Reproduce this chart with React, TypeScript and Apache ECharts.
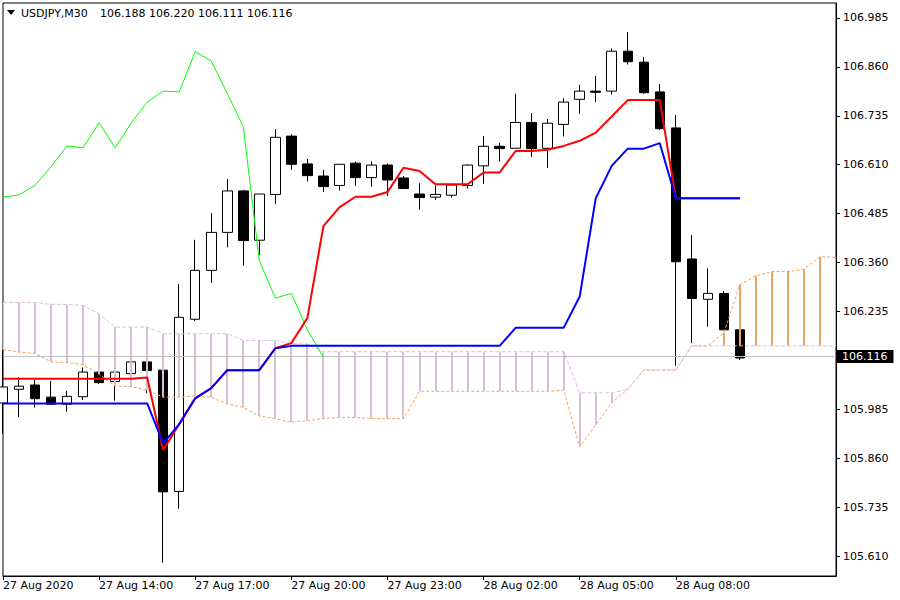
import { useEffect, useRef } from "react";
import * as echarts from "echarts";

const categories = [
  "27 Aug 11:00", "27 Aug 11:30", "27 Aug 12:00", "27 Aug 12:30", "27 Aug 13:00", "27 Aug 13:30",
  "27 Aug 14:00", "27 Aug 14:30", "27 Aug 15:00", "27 Aug 15:30", "27 Aug 16:00", "27 Aug 16:30",
  "27 Aug 17:00", "27 Aug 17:30", "27 Aug 18:00", "27 Aug 18:30", "27 Aug 19:00", "27 Aug 19:30",
  "27 Aug 20:00", "27 Aug 20:30", "27 Aug 21:00", "27 Aug 21:30", "27 Aug 22:00", "27 Aug 22:30",
  "27 Aug 23:00", "27 Aug 23:30", "28 Aug 00:00", "28 Aug 00:30", "28 Aug 01:00", "28 Aug 01:30",
  "28 Aug 02:00", "28 Aug 02:30", "28 Aug 03:00", "28 Aug 03:30", "28 Aug 04:00", "28 Aug 04:30",
  "28 Aug 05:00", "28 Aug 05:30", "28 Aug 06:00", "28 Aug 06:30", "28 Aug 07:00", "28 Aug 07:30",
  "28 Aug 08:00", "28 Aug 08:30", "28 Aug 09:00", "28 Aug 09:30", "28 Aug 10:00", "28 Aug 10:30",
  "28 Aug 11:00", "28 Aug 11:30", "28 Aug 12:00", "28 Aug 12:30", "28 Aug 13:00",
];
const firstDateLabel = "27 Aug 2020";
const symbolLabel = "USDJPY,M30";

const opens = [
  106.001, 106.036, 106.047, 106.016, 105.998, 106.017, 106.080, 106.056, 106.076, 106.106,
  106.085, 105.775, 106.215, 106.340, 106.437, 106.543, 106.417, 106.534, 106.683, 106.612,
  106.581, 106.557, 106.614, 106.577, 106.609, 106.576, 106.535, 106.527, 106.532, 106.557,
  106.607, 106.657, 106.652, 106.718, 106.652, 106.713, 106.777, 106.798, 106.798, 106.900,
  106.872, 106.796, 106.704, 106.369, 106.266, 106.281, 106.188,
];
const highs = [
  106.136, 106.067, 106.060, 106.057, 106.032, 106.092, 106.083, 106.081, 106.106, 106.106,
  106.096, 106.305, 106.418, 106.486, 106.573, 106.546, 106.535, 106.701, 106.688, 106.625,
  106.597, 106.611, 106.618, 106.619, 106.613, 106.581, 106.563, 106.557, 106.558, 106.611,
  106.683, 106.666, 106.791, 106.742, 106.727, 106.780, 106.814, 106.837, 106.907, 106.949,
  106.885, 106.816, 106.737, 106.430, 106.345, 106.287, 106.220,
];
const lows = [
  105.922, 105.965, 105.989, 105.996, 105.979, 106.009, 106.050, 106.007, 106.076, 106.026,
  105.593, 105.731, 106.211, 106.308, 106.399, 106.352, 106.379, 106.509, 106.597, 106.567,
  106.540, 106.544, 106.556, 106.554, 106.530, 106.549, 106.495, 106.520, 106.526, 106.549,
  106.561, 106.618, 106.652, 106.630, 106.602, 106.682, 106.740, 106.770, 106.789, 106.866,
  106.791, 106.699, 106.096, 106.154, 106.196, 106.188, 106.111,
];
const closes = [
  106.042, 106.044, 106.012, 105.998, 106.018, 106.080, 106.053, 106.080, 106.106, 106.084,
  105.774, 106.220, 106.340, 106.437, 106.543, 106.416, 106.535, 106.680, 106.611, 106.582,
  106.554, 106.611, 106.577, 106.609, 106.571, 106.549, 106.526, 106.534, 106.558, 106.609,
  106.657, 106.651, 106.718, 106.651, 106.716, 106.770, 106.798, 106.795, 106.900, 106.873,
  106.794, 106.702, 106.362, 106.268, 106.281, 106.188, 106.116,
];

const tenkan = [
  106.063, 106.063, 106.063, 106.063, 106.063, 106.063, 106.063, 106.063, 106.063, 106.066,
  105.881, 105.947, 106.013, 106.039, 106.085, 106.085, 106.085, 106.141, 106.154, 106.218,
  106.453, 106.501, 106.528, 106.528, 106.540, 106.602, 106.594, 106.560, 106.560, 106.560,
  106.590, 106.590, 106.645, 106.645, 106.648, 106.658, 106.671, 106.692, 106.733, 106.775,
  106.775, 106.775, 106.524, 106.524, 106.524, 106.524, 106.524,
];
const kijun = [
  106.000, 106.000, 106.000, 106.000, 106.000, 106.000, 106.000, 106.000, 106.000, 106.000,
  105.898, 105.947, 106.013, 106.039, 106.085, 106.085, 106.085, 106.141, 106.147, 106.147,
  106.147, 106.147, 106.147, 106.147, 106.147, 106.147, 106.147, 106.147, 106.147, 106.147,
  106.147, 106.147, 106.193, 106.193, 106.193, 106.193, 106.273, 106.524, 106.607, 106.651,
  106.651, 106.665, 106.524, 106.524, 106.524, 106.524, 106.524,
];
const chikou = [
  106.527, 106.533, 106.557, 106.605, 106.658, 106.653, 106.717, 106.653, 106.716, 106.770,
  106.798, 106.796, 106.899, 106.875, 106.792, 106.707, 106.365, 106.269, 106.281, 106.188,
  106.118,
];
const spanA = [
  106.138, 106.131, 106.128, 106.106, 106.104, 106.099, 106.075, 106.044, 106.043, 106.034,
  106.016, 106.016, 106.019, 106.016, 105.998, 105.990, 105.968, 105.961, 105.952, 105.956,
  105.961, 105.964, 105.964, 105.961, 105.961, 105.961, 106.031, 106.031, 106.031, 106.031,
  106.031, 106.031, 106.031, 106.031, 106.031, 106.034, 105.889, 105.945, 106.002, 106.036,
  106.085, 106.085, 106.085, 106.147, 106.147, 106.180, 106.303, 106.326, 106.337, 106.337,
  106.343, 106.375, 106.373,
];
const spanB = [
  106.258, 106.258, 106.258, 106.253, 106.253, 106.250, 106.228, 106.195, 106.195, 106.195,
  106.178, 106.178, 106.178, 106.178, 106.178, 106.161, 106.161, 106.161, 106.152, 106.152,
  106.132, 106.132, 106.132, 106.132, 106.132, 106.132, 106.132, 106.132, 106.132, 106.132,
  106.132, 106.132, 106.132, 106.132, 106.132, 106.132, 106.027, 106.027, 106.027, 106.036,
  106.085, 106.085, 106.085, 106.147, 106.147, 106.147, 106.147, 106.147, 106.147, 106.147,
  106.147, 106.147, 106.147,
];

const yTicks = [
  105.61, 105.735, 105.86, 105.985, 106.235, 106.36, 106.485, 106.61, 106.735, 106.86, 106.985,
];
const yMin = 105.5589;
const yMax = 107.0232;

const FONT = "DejaVu Sans";

export default function App() {
  const ref = useRef<HTMLDivElement>(null);

  useEffect(() => {
    document.body.style.margin = "0";
    const chart = echarts.init(ref.current as HTMLDivElement, null, { renderer: "svg" });
    const lastIdx = closes.length - 1;
    const candleData = opens.map((o, i) => [o, closes[i], lows[i], highs[i]]);
    const cloudData = spanA.map((a, i) => [i, a, spanB[i]]);
    const showIdx = (i: number) => i % 6 === 0 && i <= lastIdx;
    const header = [opens[lastIdx], highs[lastIdx], lows[lastIdx], closes[lastIdx]]
      .map((v) => v.toFixed(3))
      .join(" ");

    chart.setOption({
      animation: false,
      backgroundColor: "#fff",
      textStyle: { fontFamily: FONT },
      grid: {
        left: 3,
        right: 64,
        top: 3,
        bottom: 24,
        show: true,
        borderColor: "#000",
        borderWidth: 1,
        backgroundColor: "#fff",
      },
      xAxis: {
        type: "category",
        data: categories,
        boundaryGap: false,
        axisLine: { show: true, lineStyle: { color: "#000", width: 1 } },
        axisTick: { show: true, length: 4, interval: (i: number) => showIdx(i), lineStyle: { color: "#000" } },
        axisLabel: {
          interval: (i: number) => showIdx(i),
          formatter: (v: string, i: number) => (i === 0 ? firstDateLabel : v),
          align: "left",
          margin: 4,
          fontSize: 11,
          color: "#000",
          fontFamily: FONT,
        },
        splitLine: { show: false },
      },
      yAxis: {
        type: "value",
        position: "right",
        min: yMin,
        max: yMax,
        axisLine: { show: true, lineStyle: { color: "#000", width: 1 } },
        axisTick: { show: true, length: 4, customValues: yTicks, lineStyle: { color: "#000" } },
        axisLabel: {
          customValues: yTicks,
          formatter: (v: number) => v.toFixed(3),
          margin: 7,
          fontSize: 11,
          color: "#000",
          fontFamily: FONT,
        },
        splitLine: { show: false },
      },
      series: [
        {
          type: "candlestick",
          data: candleData,
          barWidth: 10,
          z: 2,
          itemStyle: {
            color: "#fff",
            color0: "#000",
            borderColor: "#000",
            borderColor0: "#000",
            borderWidth: 1,
          },
          markLine: {
            silent: true,
            symbol: ["none", "none"],
            data: [{ yAxis: closes[lastIdx] }],
            lineStyle: { color: "#C0C0C0", type: "solid", width: 1 },
            label: {
              show: true,
              position: "end",
              formatter: closes[lastIdx].toFixed(3),
              backgroundColor: "#000",
              color: "#fff",
              padding: [1, 6, 1, 5],
              distance: 1,
              fontSize: 11,
              fontFamily: FONT,
            },
          },
        },
        {
          type: "custom",
          data: cloudData,
          z: 3,
          clip: true,
          encode: { x: 0, y: [1, 2] },
          renderItem: (_params: any, api: any) => {
            const i = api.value(0);
            const a = api.value(1);
            const b = api.value(2);
            if (a === b) return null;
            const p1 = api.coord([i, a]);
            const p2 = api.coord([i, b]);
            const x = Math.round(p1[0]);
            return {
              type: "line",
              shape: { x1: x, y1: p1[1], x2: x, y2: p2[1] },
              style: { stroke: a > b ? "#F4A460" : "#D8BFD8", lineWidth: 2 },
            };
          },
        },
        {
          type: "line",
          data: spanA,
          z: 4,
          symbol: "none",
          showSymbol: false,
          lineStyle: { color: "#F4A460", width: 1, type: [3, 2] },
        },
        {
          type: "line",
          data: spanB,
          z: 4,
          symbol: "none",
          showSymbol: false,
          lineStyle: { color: "#D8BFD8", width: 1, type: [4, 2] },
        },
        {
          type: "line",
          data: chikou,
          z: 5,
          symbol: "none",
          showSymbol: false,
          lineStyle: { color: "#00FF00", width: 1 },
        },
        {
          type: "line",
          data: tenkan,
          z: 6,
          symbol: "none",
          showSymbol: false,
          lineStyle: { color: "#FF0000", width: 2 },
        },
        {
          type: "line",
          data: kijun,
          z: 7,
          symbol: "none",
          showSymbol: false,
          lineStyle: { color: "#0000FF", width: 2 },
        },
      ],
      graphic: [
        {
          type: "polygon",
          z: 100,
          shape: { points: [[7, 10], [15, 10], [11, 15]] },
          style: { fill: "#000" },
        },
        {
          type: "text",
          z: 100,
          x: 21,
          y: 13,
          style: { text: symbolLabel, fontSize: 11, fontFamily: FONT, fill: "#000", verticalAlign: "middle" },
        },
        {
          type: "text",
          z: 100,
          x: 100,
          y: 13,
          style: { text: header, fontSize: 11, fontFamily: FONT, fill: "#000", verticalAlign: "middle" },
        },
      ],
    });

    return () => chart.dispose();
  }, []);

  return (
    <div
      ref={ref}
      style={{ position: "absolute", left: 0, top: 0, width: 900, height: 600, background: "#fff" }}
    />
  );
}
